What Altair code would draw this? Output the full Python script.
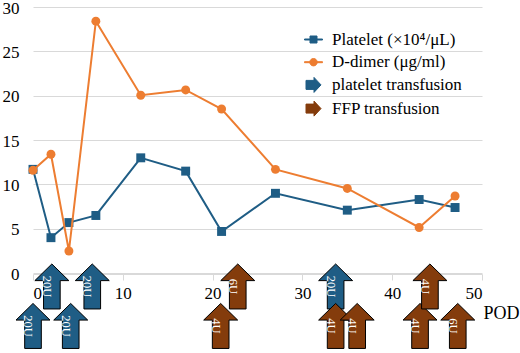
import altair as alt
import pandas as pd

# ---- data ----
days = [0, 2, 4, 7, 12, 17, 21, 27, 35, 43, 47]
platelet = [11.7, 4.0, 5.7, 6.5, 13.0, 11.5, 4.7, 9.0, 7.1, 8.3, 7.4]
ddimer = [11.6, 13.4, 2.5, 28.4, 20.05, 20.65, 18.5, 11.7, 9.55, 5.15, 8.7]

arrow_day = [2.1, 6.6, 0.0, 4.2, 20.9, 22.8, 33.7, 33.7, 36.1, 43.1, 44.2, 47.3]
arrow_tier = ["top", "top", "bottom", "bottom", "bottom", "top", "top", "bottom", "bottom", "bottom", "top", "bottom"]
arrow_type = ["platelet transfusion"] * 4 + ["FFP transfusion"] * 2 + ["platelet transfusion"] + ["FFP transfusion"] * 5
arrow_label = ["20U", "20U", "20U", "20U", "4U", "6U", "20U", "4U", "4U", "4U", "4U", "6U"]

x_ticks = [0, 10, 20, 30, 40, 50]
y_ticks = [0, 5, 10, 15, 20, 25, 30]

S_PLT = "Platelet (×10⁴/μL)"
S_DD = "D-dimer (μg/ml)"
S_PT = "platelet transfusion"
S_FFP = "FFP transfusion"
series_domain = [S_PLT, S_DD, S_PT, S_FFP]

BLUE = "#1f5d85"
ORANGE = "#ed7d31"
BROWN = "#843c0c"

# ---- styling ----
FONT = "'Liberation Serif', 'Times New Roman', Times, serif"
TIER_Y = {"top": -1.5, "bottom": -5.95}

UP_ARROW = "M0,-1L0.755,-0.26L0.37,-0.26L0.37,1L-0.37,1L-0.37,-0.26L-0.755,-0.26Z"
RIGHT_ARROW = "M0.75,0L0.05,-0.75L0.05,-0.45L-0.75,-0.45L-0.75,0.45L0.05,0.45L0.05,0.75Z"
LINE_SQUARE = "M-0.9,-0.05L0.9,-0.05L0.9,0.05L-0.9,0.05Z M-0.35,-0.35L0.35,-0.35L0.35,0.35L-0.35,0.35Z"
LINE_CIRCLE = ("M-0.9,-0.05L0.9,-0.05L0.9,0.05L-0.9,0.05Z "
               "M0.37,0A0.37,0.37 0 1,1 -0.37,0A0.37,0.37 0 1,1 0.37,0Z")

series_df = pd.DataFrame({
    "day": days * 2,
    "value": platelet + ddimer,
    "series": [S_PLT] * len(days) + [S_DD] * len(days),
})
arrow_df = pd.DataFrame({
    "day": arrow_day,
    "value": [TIER_Y[t] for t in arrow_tier],
    "series": arrow_type,
    "label": arrow_label,
})
legend_df = pd.DataFrame({"series": series_domain})

x_enc = alt.X(
    "day:Q",
    scale=alt.Scale(domain=[0, 50], nice=False, zero=False),
    axis=alt.Axis(
        values=x_ticks, grid=False, domainColor="#d9d9d9", tickColor="#d9d9d9",
        tickSize=6, labelFontSize=17, labelFont=FONT, labelColor="black",
        labelPadding=5, offset=-79, title="POD", titleFont=FONT, titleFontSize=18,
        titleFontWeight="normal", titleColor="black", titleAlign="left",
        titleBaseline="middle", titleX=450, titleY=39, titleAngle=0,
    ),
)
y_enc = alt.Y(
    "value:Q",
    scale=alt.Scale(domain=[-9, 30], nice=False, zero=False),
    axis=alt.Axis(
        values=y_ticks, title=None, domain=False, ticks=False, gridColor="#d9d9d9",
        gridWidth=1, labelFontSize=17, labelFont=FONT, labelColor="black",
        labelPadding=14, labelOffset=1,
    ),
)

color_scale = alt.Scale(domain=series_domain, range=[BLUE, ORANGE, BLUE, BROWN])
shape_scale = alt.Scale(domain=series_domain, range=[LINE_SQUARE, LINE_CIRCLE, RIGHT_ARROW, RIGHT_ARROW])
stroke_scale = alt.Scale(domain=series_domain, range=[BLUE, ORANGE, "black", "black"])

legend = alt.Legend(
    title=None, orient="none", legendX=270, legendY=22, padding=0,
    symbolSize=400, symbolStrokeWidth=1, labelFont=FONT, labelFontSize=17,
    labelColor="black", labelOffset=8, rowPadding=3.7, symbolOpacity=1,
    labelLimit=300,
)
color_enc = alt.Color("series:N", scale=color_scale, legend=legend)


def line_layer(name, shape):
    base = alt.Chart(series_df).transform_filter(alt.datum.series == name)
    line = base.mark_line(strokeWidth=2).encode(x=x_enc, y=y_enc, color=color_enc)
    pts = base.mark_point(filled=True, opacity=1, size=80, strokeWidth=0.8, shape=shape).encode(
        x=x_enc, y=y_enc, color=color_enc,
    )
    return line, pts


l1, p1 = line_layer(S_PLT, "square")
l2, p2 = line_layer(S_DD, "circle")

# legend-only layer: carries the legend symbol shapes/strokes, drawn invisibly
legend_layer = alt.Chart(legend_df).mark_point(filled=True, opacity=0, size=0).encode(
    color=color_enc,
    shape=alt.Shape("series:N", scale=shape_scale, legend=legend),
    stroke=alt.Stroke("series:N", scale=stroke_scale, legend=legend),
)

arrows = alt.Chart(arrow_df).mark_point(
    shape=UP_ARROW, filled=True, opacity=1, size=2025, stroke="black", strokeWidth=1
).encode(x=x_enc, y=y_enc, color=color_enc)

arrow_text = alt.Chart(arrow_df).mark_text(
    angle=90, align="center", baseline="middle", dy=5, font=FONT, fontSize=12.5, color="white"
).encode(x=x_enc, y=y_enc, text="label:N")

chart = alt.layer(l1, p1, l2, p2, arrows, arrow_text, legend_layer).properties(
    width=449, height=346,
    padding={"left": 33, "top": 7, "right": 38, "bottom": 0},
    autosize=alt.AutoSizeParams(type="none"),
    background="white",
).configure(font=FONT).configure_view(stroke=None)

chart.save("out.html", embed_options={"renderer": "svg", "actions": False})
